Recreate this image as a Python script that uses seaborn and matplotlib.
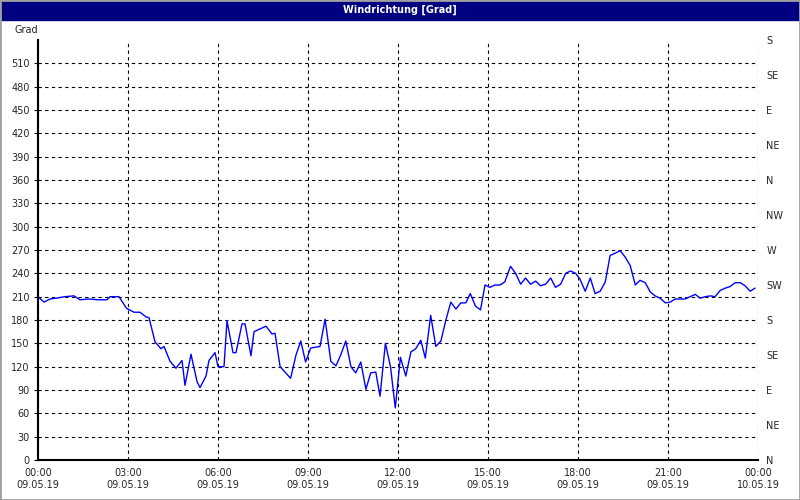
import matplotlib
matplotlib.use("Agg")
import matplotlib.pyplot as plt
import seaborn as sns
import pandas as pd

hours = [0.0,0.2,0.4,0.6,0.9,1.2,1.4,1.7,2.0,2.3,2.4,2.7,2.95,3.2,3.4,3.6,3.7,3.9,4.1,4.2,4.4,4.6,4.8,4.9,5.1,5.3,5.4,5.6,5.7,5.9,6.0,6.2,6.3,6.5,6.6,6.8,6.9,7.1,7.2,7.6,7.8,7.9,8.07,
         8.42,8.6,8.76,8.92,9.09,9.4,9.57,9.76,9.93,10.09,10.26,10.43,10.59,10.76,10.93,11.09,11.26,11.4,11.58,11.75,11.91,12.08,12.26,12.43,12.59,12.76,12.91,13.09,13.26,13.43,13.59,13.76,13.93,14.09,14.26,14.41,14.58,14.75,14.9,
         15.07,15.23,15.4,15.56,15.75,15.92,16.09,16.25,16.42,16.59,16.75,16.92,17.09,17.25,17.42,17.59,17.75,17.92,18.06,18.24,18.41,18.57,18.74,18.91,19.07,19.24,19.41,19.57,19.74,19.91,20.07,20.24,20.41,20.57,20.74,20.91,21.07,21.24,21.41,21.57,21.74,21.91,22.07,22.24,22.41,22.57,22.74,22.91,23.07,23.24,23.41,23.57,23.74,23.9]
values = [210,203,207,208,210,211,206,207,206,206,210,210,195,190,190,184,183,152,143,146,127,118,128,96,136,101,93,108,128,138,120,120,179,138,138,175,175,134,165,172,162,163,120,
          105,135,153,126,144,146,181,127,121,135,153,120,112,126,91,112,113,82,150,120,67,132,108,139,143,154,131,186,146,153,179,203,194,202,202,214,198,193,225,
          222,225,225,229,249,240,226,234,226,230,224,226,234,222,226,240,243,240,233,217,234,214,217,229,263,266,269,261,250,225,231,228,216,211,208,202,203,207,207,207,210,213,208,210,211,210,218,221,223,228,228,224,217,221]

y_ticks = list(range(0, 540, 30))
dir_labels = ["N", "NE", "E", "SE", "S", "SW", "W", "NW", "N", "NE", "E", "SE", "S"]
x_ticks = list(range(0, 25, 3))
x_labels = [f"{h % 24:02d}:00\n{'10.05.19' if h == 24 else '09.05.19'}" for h in x_ticks]

df = pd.DataFrame({"h": hours, "v": values})

sns.set_style("white")
plt.rcParams["font.family"] = ["DejaVu Sans"]
fig = plt.figure(figsize=(8, 5), dpi=100, facecolor="white")
ax = fig.add_axes([38/800, 40/500, 720/800, 420/500])
sns.lineplot(data=df, x="h", y="v", ax=ax, color="#0000ff", linewidth=1)
ax.set_xlim(0, 24)
ax.set_ylim(0, 540)
ax.set_xticks(x_ticks)
ax.set_xticklabels(x_labels, fontsize=7)
ax.set_yticks(y_ticks)
ax.set_yticklabels([str(t) for t in y_ticks], fontsize=7)
ax.set_xlabel("")
ax.set_ylabel("")
ax.grid(True, color="black", linestyle=(0, (3, 3)), linewidth=0.8)
for s in ["top", "right"]:
    ax.spines[s].set_visible(False)
for s in ["left", "bottom"]:
    ax.spines[s].set_color("black")
    ax.spines[s].set_linewidth(1.5)
ax.tick_params(length=3, color="black", pad=3)
ax.text(0, 546, "Grad", fontsize=7, ha="right", va="bottom", transform=ax.transData)
ax2 = ax.twinx()
ax2.set_ylim(0, 540)
ax2.set_yticks(list(range(0, 541, 45)))
ax2.set_yticklabels(dir_labels, fontsize=7)
ax2.tick_params(length=0, pad=6)
for s in ax2.spines.values():
    s.set_visible(False)
fig.patches.append(plt.Rectangle((0, 480/500), 1, 20/500, transform=fig.transFigure, color="#000080", zorder=-1))
fig.text(0.5, 490/500, "Windrichtung [Grad]", color="white", fontsize=7, fontweight="bold", ha="center", va="center")
fig.patches.append(plt.Rectangle((0, 0), 1, 1, transform=fig.transFigure, fill=False, edgecolor="#a0a0a0", linewidth=2))
fig.savefig("out.png", dpi=100)
